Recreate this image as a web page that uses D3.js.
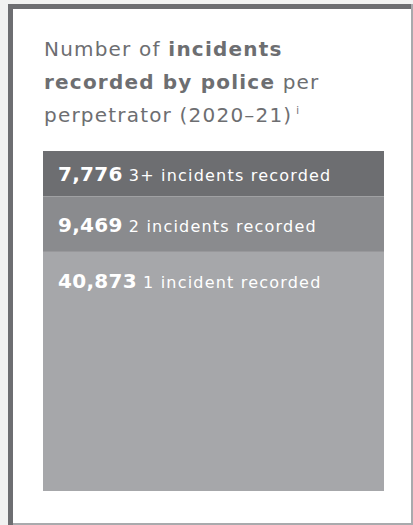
<!DOCTYPE html>
<html>
<head>
<meta charset="utf-8">
<script src="https://cdn.jsdelivr.net/npm/d3@7"></script>
<style>
  html, body { margin: 0; padding: 0; background: #f1f2f1; }
  svg { display: block; }
  text { font-family: "DejaVu Sans", sans-serif; }
</style>
</head>
<body>
<svg id="chart"></svg>
<script>
const width = 413;
const height = 525;

// data, top segment first
const counts = [7776, 9469, 40873];
const labels = ["3+ incidents recorded", "2 incidents recorded", "1 incident recorded"];
const colors = ["#6d6e71", "#8a8b8e", "#a6a7aa"];

const titleLines = [
  [{ t: "Number of ", b: false }, { t: "incidents", b: true }],
  [{ t: "recorded by police", b: true }, { t: " per", b: false }],
  [{ t: "perpetrator (2020–21)", b: false }]
];

const svg = d3.select("#chart")
  .attr("width", width)
  .attr("height", height);

// card
svg.append("rect")
  .attr("x", 8).attr("y", 4)
  .attr("width", width - 8).attr("height", height - 4)
  .attr("fill", "#fff");
svg.append("rect")
  .attr("x", 411).attr("y", 4).attr("width", 2).attr("height", height - 4)
  .attr("fill", "#a9aaad");
svg.append("rect")
  .attr("x", 8).attr("y", 523).attr("width", width - 8).attr("height", 2)
  .attr("fill", "#a9aaad");
svg.append("rect")
  .attr("x", 8).attr("y", 4).attr("width", width - 10).attr("height", 5)
  .attr("fill", "#6d6e71");
svg.append("rect")
  .attr("x", 8).attr("y", 4).attr("width", 5).attr("height", height - 4)
  .attr("fill", "#6d6e71");

// title
const title = svg.append("text")
  .attr("fill", "#6d6e71")
  .attr("font-size", 20)
  .attr("letter-spacing", 1.2);

titleLines.forEach((line, i) => {
  line.forEach((part, j) => {
    const ts = title.append("tspan")
      .attr("font-weight", part.b ? 700 : 400)
      .text(part.t);
    if (j === 0) ts.attr("x", 44).attr("y", 56 + i * 33);
  });
});
title.append("tspan")
  .attr("font-size", 10)
  .attr("letter-spacing", 0)
  .attr("dx", 4)
  .attr("dy", -8)
  .text("i");

// stacked bar
const x0 = 43, x1 = 384;
const total = d3.sum(counts);
const y = d3.scaleLinear().domain([0, total]).range([151, 491]);

let acc = 0;
const segs = counts.map((c, i) => {
  const s = { value: c, label: labels[i], color: colors[i], y0: acc, y1: acc + c };
  acc += c;
  return s;
});

svg.selectAll("rect.seg")
  .data(segs)
  .enter()
  .append("rect")
  .attr("class", "seg")
  .attr("x", x0)
  .attr("width", x1 - x0)
  .attr("y", d => y(d.y0))
  .attr("height", d => y(d.y1) - y(d.y0))
  .attr("fill", d => d.color);

const fmt = d3.format(",");

const lab = svg.selectAll("text.lab")
  .data(segs)
  .enter()
  .append("text")
  .attr("class", "lab")
  .attr("fill", "#fff")
  .attr("x", 58)
  .attr("y", d => {
    const h = Math.min(y(d.y1) - y(d.y0), 57);
    return y(d.y0) + h / 2 + 7.5;
  });

lab.append("tspan")
  .attr("font-weight", 700)
  .attr("font-size", 20)
  .attr("letter-spacing", 0.3)
  .text(d => fmt(d.value));
lab.append("tspan")
  .attr("font-size", 16)
  .attr("letter-spacing", 1.2)
  .attr("dx", 6)
  .text(d => d.label);
</script>
</body>
</html>
